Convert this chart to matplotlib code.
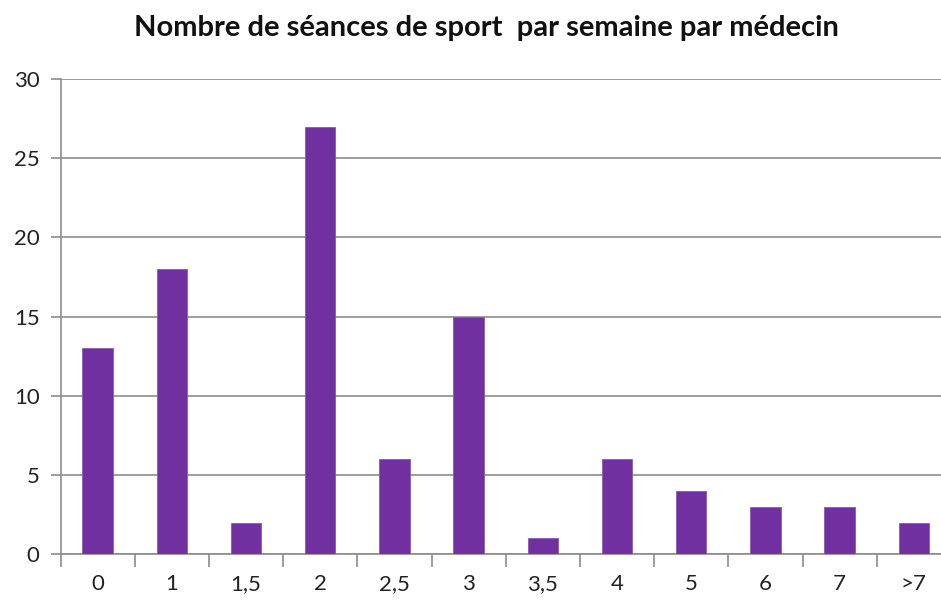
import matplotlib
matplotlib.use("Agg")
import matplotlib.pyplot as plt

categories = ["0", "1", "1,5", "2", "2,5", "3", "3,5", "4", "5", "6", "7", ">7"]
values = [13, 18, 2, 27, 6, 15, 1, 6, 4, 3, 3, 2]
yticks = [0, 5, 10, 15, 20, 25, 30]
title = "Nombre de séances de sport  par semaine par médecin"

W, H = 941, 600
fig = plt.figure(figsize=(W / 100, H / 100), dpi=100)
left, right = 60.5, 951
top, bottom = 79, 554.3
ax = fig.add_axes([left / W, 1 - bottom / H, (right - left) / W, (bottom - top) / H])

x = list(range(len(categories)))
ax.bar(x, values, width=0.41, color="#7030A0", edgecolor="#8a5bb5", linewidth=0.6, zorder=3)
ax.set_xlim(-0.5, len(categories) - 0.5)
ax.set_ylim(0, 30)
ax.set_yticks(yticks)
ax.set_yticklabels([str(v) for v in yticks], fontsize=16, family="Lato", color="#222222")
ax.yaxis.grid(True, color="#8c8c8c", linewidth=1.2, zorder=0)
ax.set_xticks(x)
ax.set_xticklabels(categories, fontsize=16, family="Lato", color="#222222")
ax.tick_params(axis="x", length=0, pad=14)
ax.tick_params(axis="y", length=7, color="#8c8c8c", width=1.2, pad=8)
# minor ticks at category boundaries
ax.set_xticks([i - 0.5 for i in range(len(categories) + 1)], minor=True)
ax.tick_params(axis="x", which="minor", length=9, color="#8c8c8c", width=1.2)
for s in ["top", "right"]:
    ax.spines[s].set_visible(False)
for s in ["left", "bottom"]:
    ax.spines[s].set_color("#8c8c8c")
    ax.spines[s].set_linewidth(1.2)

fig.text(486 / W, 1 - 28 / H, title, ha="center", va="center", fontsize=21,
         fontweight="bold", family="Lato", color="#111111")
fig.savefig("out.png", dpi=100)
